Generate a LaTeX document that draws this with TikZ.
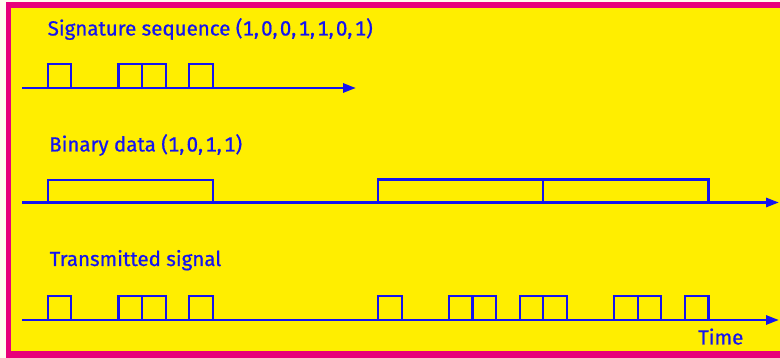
\documentclass[tikz,border=0pt]{standalone}
\usepackage{fontspec}
\setmainfont{Fira Sans}
\newfontfamily\lblfont{Fira Sans}[FakeBold=0.7,Numbers=Monospaced]
\usetikzlibrary{arrows.meta}
\definecolor{bgyellow}{HTML}{FFEE00}
\definecolor{framepink}{HTML}{E8007A}
\definecolor{paper}{HTML}{FFFDF0}
\definecolor{inkblue}{HTML}{1414F0}
\newcommand{\cm}{,\kern2.3pt}
\tikzset{
  axisline/.style={draw=inkblue, line width=2.8pt, -{Triangle[length=13pt,width=9pt]}},
  pulseline/.style={draw=inkblue, line width=2.2pt, line join=miter},
  lbl/.style={anchor=base west, inner sep=0pt, text=inkblue, font=\lblfont\fontsize{20.5}{24}\selectfont},
}
\newcommand{\pulse}[3]{\draw[pulseline] (#1,#2) -- (#1,#3) -- ({#1+23.6},#3) -- ({#1+23.6},#2);}
\begin{document}
\begin{tikzpicture}[x=1pt,y=-1pt]
\useasboundingbox (0,0) rectangle (780,358);
\fill[paper] (0,0) rectangle (780,358);
\fill[framepink] (6,2) rectangle (780,358);
\fill[bgyellow] (11,8) rectangle (780,351.5);

% labels
\node[lbl] (sig) at (47.5,35.5) {Signature sequence (1\cm0\cm0\cm1\cm1\cm0\cm1)};
\node[lbl] (bin) at (49,151.5) {Binary data (1\cm0\cm1\cm1)};
\node[lbl] (tx) at (49.5,266) {Transmitted signal};
\node[lbl] (time) at (698,344.5) {Time};

% axes
\coordinate (a1s) at (22,88);  \coordinate (a1e) at (356,88);
\coordinate (a2s) at (22,202.5); \coordinate (a2e) at (779,202.5);
\coordinate (a3s) at (22,320); \coordinate (a3e) at (779,320);
\draw[axisline] (a1s) -- (a1e);
\draw[axisline] (a2s) -- (a2e);
\draw[axisline] (a3s) -- (a3e);

% signature sequence 1,0,0,1,1,0,1
\foreach \k in {0,3,4,6} { \pulse{47.7+\k*23.6}{88}{64} }

% binary data 1,0,1,1
\draw[pulseline] (47.7,202.5) -- (47.7,180) -- (212.9,180) -- (212.9,202.5);
\draw[pulseline] (378.1,202.5) -- (378.1,179.5) -- (708.5,179.5) -- (708.5,202.5);
\draw[pulseline] (543.3,179.5) -- (543.3,202.5);

% transmitted signal
\foreach \b in {0,2,3} {
  \foreach \k in {0,3,4,6} { \pulse{47.7+\b*165.2+\k*23.6}{320}{296} }
}
\end{tikzpicture}
\end{document}
